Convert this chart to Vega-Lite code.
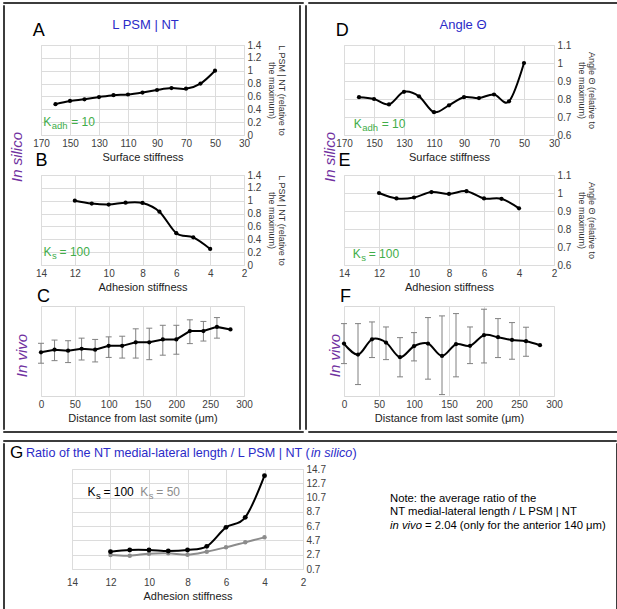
{
"$schema": "https://vega.github.io/schema/vega-lite/v6.json",
"background": "white",
"padding": {"left": 2, "top": 1, "right": 0, "bottom": 0},
"config": {
  "font": "Liberation Sans",
  "view": {"stroke": "#d9d9d9"},
  "axis": {"labelFontSize": 10, "labelColor": "#404040", "titleFontSize": 11, "titleFontWeight": "normal", "titleColor": "#222222", "gridColor": "#dcdcdc", "domain": false, "ticks": false, "labelPadding": 3, "titlePadding": 3, "labelFlush": false},
  "axisY": {"titleFontSize": 9, "titleLineHeight": 10, "titlePadding": 6, "titleColor": "#333333"},
  "title": {"fontWeight": "normal", "color": "#000000", "font": "Liberation Sans"}
},
"datasets": {
  "A": [{"x":160,"y":0.48},{"x":150,"y":0.53},{"x":140,"y":0.555},{"x":130,"y":0.59},{"x":120,"y":0.62},{"x":110,"y":0.63},{"x":100,"y":0.66},{"x":90,"y":0.70},{"x":80,"y":0.73},{"x":70,"y":0.72},{"x":60,"y":0.80},{"x":50,"y":1.0}],
  "B": [{"x":12,"y":1.0},{"x":11,"y":0.955},{"x":10,"y":0.94},{"x":9,"y":0.97},{"x":8,"y":0.965},{"x":7,"y":0.83},{"x":6,"y":0.495},{"x":5,"y":0.43},{"x":4,"y":0.25}],
  "C": [{"x":0,"y":0.68,"lo":0.51,"hi":0.82},{"x":20,"y":0.72,"lo":0.55,"hi":0.87},{"x":40,"y":0.705,"lo":0.52,"hi":0.86},{"x":60,"y":0.735,"lo":0.56,"hi":0.9},{"x":80,"y":0.72,"lo":0.53,"hi":0.88},{"x":100,"y":0.78,"lo":0.6,"hi":0.92},{"x":120,"y":0.78,"lo":0.59,"hi":0.93},{"x":140,"y":0.835,"lo":0.59,"hi":1.045},{"x":160,"y":0.835,"lo":0.565,"hi":1.055},{"x":180,"y":0.88,"lo":0.635,"hi":1.1},{"x":200,"y":0.88,"lo":0.65,"hi":1.1},{"x":220,"y":1.01,"lo":0.815,"hi":1.185},{"x":240,"y":1.01,"lo":0.855,"hi":1.16},{"x":260,"y":1.075,"lo":0.9,"hi":1.22},{"x":280,"y":1.035}],
  "D": [{"x":160,"y":0.81},{"x":150,"y":0.8},{"x":140,"y":0.77},{"x":130,"y":0.84},{"x":120,"y":0.815},{"x":110,"y":0.727},{"x":100,"y":0.765},{"x":90,"y":0.81},{"x":80,"y":0.805},{"x":70,"y":0.825},{"x":60,"y":0.787},{"x":50,"y":1.0}],
  "E": [{"x":12,"y":1.0},{"x":11,"y":0.97},{"x":10,"y":0.975},{"x":9,"y":1.005},{"x":8,"y":0.995},{"x":7,"y":1.01},{"x":6,"y":0.97},{"x":5,"y":0.968},{"x":4,"y":0.915}],
  "F": [{"x":0,"y":1.008,"lo":0.852,"hi":1.163},{"x":20,"y":0.922,"lo":0.689,"hi":1.163},{"x":40,"y":1.041,"lo":0.899,"hi":1.176},{"x":60,"y":1.016,"lo":0.883,"hi":1.137},{"x":80,"y":0.902,"lo":0.749,"hi":1.054},{"x":100,"y":0.987,"lo":0.873,"hi":1.093},{"x":120,"y":1.008,"lo":0.731,"hi":1.21},{"x":140,"y":0.912,"lo":0.611,"hi":1.223},{"x":160,"y":1.003,"lo":0.749,"hi":1.241},{"x":180,"y":0.99,"lo":0.852,"hi":1.137},{"x":200,"y":1.073,"lo":0.857,"hi":1.275},{"x":220,"y":1.057,"lo":0.899,"hi":1.202},{"x":240,"y":1.036,"lo":0.886,"hi":1.171},{"x":260,"y":1.026,"lo":0.909,"hi":1.135},{"x":280,"y":0.995}],
  "G": [{"x":12,"y":3.13,"s":100},{"x":11,"y":3.36,"s":100},{"x":10,"y":3.36,"s":100},{"x":9,"y":3.22,"s":100},{"x":8,"y":3.36,"s":100},{"x":7,"y":3.87,"s":100},{"x":6,"y":6.53,"s":100},{"x":5,"y":7.93,"s":100},{"x":4,"y":13.77,"s":100},
        {"x":12,"y":2.66,"s":50},{"x":11,"y":2.57,"s":50},{"x":10,"y":2.85,"s":50},{"x":9,"y":2.9,"s":50},{"x":8,"y":2.7,"s":50},{"x":7,"y":3.13,"s":50},{"x":6,"y":3.73,"s":50},{"x":5,"y":4.43,"s":50},{"x":4,"y":5.13,"s":50}],
  "ann": [{"p":"A","x":168.5,"y":0.2,"k":"K","sub":"adh","rest":"= 10"},{"p":"B","x":13.85,"y":0.2,"k":"K","sub":"s","rest":"= 100"},{"p":"D","x":163.5,"y":0.66,"k":"K","sub":"adh","rest":"= 10"},{"p":"E","x":13.5,"y":0.66,"k":"K","sub":"s","rest":"= 100"},{"p":"G1","x":13.2,"y":11.5,"k":"K","sub":"s","rest":"= 100"},{"p":"G2","x":10.45,"y":11.5,"k":"K","sub":"s","rest":"= 50"}],
  "note": [{"line":1,"part":"n","t":"Note: the average ratio of the"},{"line":2,"part":"n","t":"NT medial-lateral length / L PSM | NT"},{"line":3,"part":"i","t":"in vivo"},{"line":3,"part":"r","t":"= 2.04 (only for the anterior 140 μm)"}],
  "ghead": [{"c":"g","t":"G"},{"c":"b","t":"Ratio of the NT medial-lateral length / L PSM | NT ("},{"c":"i","t":"in silico"},{"c":"e","t":")"}]
},
"spacing": 0,
"vconcat": [
 {"hconcat": [
   {"width": 300, "height": 1, "data": {"values": []}, "mark": "point", "view": {"stroke": "#3c3c3c"}},
   {"width": 310, "height": 1, "data": {"values": []}, "mark": "point", "view": {"stroke": "#3c3c3c"}}
 ], "spacing": 3},
 {"hconcat": [
  {"hconcat": [
   {"width": 1, "height": 424, "data": {"values": []}, "mark": "point", "view": {"stroke": "#3c3c3c"}},
   {"hconcat": [
    {"spacing": -25,
     "vconcat": [
      {"width": 203, "height": 40, "view": {"stroke": null}, "data": {"values": [{"t": "L PSM | NT"}]},
       "mark": {"type": "text", "fontSize": 13, "color": "#2B2BC8", "dx": 3}, "encoding": {"text": {"field": "t"}}},
      {"spacing": -6,
       "vconcat": [
        {"title": {"text": "In silico", "orient": "left", "anchor": "middle", "fontSize": 15, "fontStyle": "italic", "color": "#7030A0", "offset": 7},
         "spacing": -12,
         "vconcat": [
          {"width": 203, "height": 90,
           "title": {"text": "A", "anchor": "start", "fontSize": 18, "offset": 0},
           "data": {"name": "A"},
           "encoding": {
            "x": {"field": "x", "type": "quantitative", "scale": {"domain": [30, 170], "reverse": true, "nice": false, "zero": false}, "axis": {"values": [30,50,70,90,110,130,150,170], "title": "Surface stiffness"}},
            "y": {"field": "y", "type": "quantitative", "scale": {"domain": [0, 1.4], "nice": false}, "axis": {"orient": "right", "values": [0,0.2,0.4,0.6,0.8,1,1.2,1.4], "format": "~g", "title": ["L PSM | NT (relative to", "the maximum)"]}}
           },
           "layer": [
            {"mark": {"type": "line", "interpolate": "cardinal", "color": "#000000", "strokeWidth": 2}},
            {"mark": {"type": "circle", "color": "#000000", "size": 18, "opacity": 1}},
            {"data": {"name": "ann"}, "transform": [{"filter": "datum.p == 'A'"}], "mark": {"type": "text", "align": "left", "baseline": "middle", "fontSize": 12, "color": "#41AD49"}, "encoding": {"text": {"field": "k"}}},
            {"data": {"name": "ann"}, "transform": [{"filter": "datum.p == 'A'"}], "mark": {"type": "text", "align": "left", "baseline": "middle", "fontSize": 9.5, "dx": 8.5, "dy": 4, "color": "#41AD49"}, "encoding": {"text": {"field": "sub"}}},
            {"data": {"name": "ann"}, "transform": [{"filter": "datum.p == 'A'"}], "mark": {"type": "text", "align": "left", "baseline": "middle", "fontSize": 12, "dx": 28, "color": "#41AD49"}, "encoding": {"text": {"field": "rest"}}}
           ]},
          {"width": 203, "height": 90,
           "title": {"text": "B", "anchor": "start", "fontSize": 18, "offset": 0},
           "data": {"name": "B"},
           "encoding": {
            "x": {"field": "x", "type": "quantitative", "scale": {"domain": [2, 14], "reverse": true, "nice": false, "zero": false}, "axis": {"values": [2,4,6,8,10,12,14], "title": "Adhesion stiffness"}},
            "y": {"field": "y", "type": "quantitative", "scale": {"domain": [0, 1.4], "nice": false}, "axis": {"orient": "right", "values": [0,0.2,0.4,0.6,0.8,1,1.2,1.4], "format": "~g", "title": ["L PSM | NT (relative to", "the maximum)"]}}
           },
           "layer": [
            {"mark": {"type": "line", "interpolate": "cardinal", "color": "#000000", "strokeWidth": 2}},
            {"mark": {"type": "circle", "color": "#000000", "size": 18, "opacity": 1}},
            {"data": {"name": "ann"}, "transform": [{"filter": "datum.p == 'B'"}], "mark": {"type": "text", "align": "left", "baseline": "middle", "fontSize": 12, "color": "#41AD49"}, "encoding": {"text": {"field": "k"}}},
            {"data": {"name": "ann"}, "transform": [{"filter": "datum.p == 'B'"}], "mark": {"type": "text", "align": "left", "baseline": "middle", "fontSize": 9.5, "dx": 8.5, "dy": 4, "color": "#41AD49"}, "encoding": {"text": {"field": "sub"}}},
            {"data": {"name": "ann"}, "transform": [{"filter": "datum.p == 'B'"}], "mark": {"type": "text", "align": "left", "baseline": "middle", "fontSize": 12, "dx": 16, "color": "#41AD49"}, "encoding": {"text": {"field": "rest"}}}
           ]}
         ]},
        {"title": {"text": "In vivo", "orient": "left", "anchor": "middle", "fontSize": 15, "fontStyle": "italic", "color": "#7030A0", "offset": 7},
         "vconcat": [
          {"width": 203, "height": 90,
           "title": {"text": "C", "anchor": "start", "fontSize": 18, "offset": 0},
           "data": {"name": "C"},
           "encoding": {
            "x": {"field": "x", "type": "quantitative", "scale": {"domain": [0, 300], "nice": false}, "axis": {"values": [0,50,100,150,200,250,300], "title": "Distance from last somite (μm)"}},
            "y": {"field": "y", "type": "quantitative", "scale": {"domain": [0, 1.4], "nice": false}, "axis": {"orient": "right", "values": [0,0.2,0.4,0.6,0.8,1,1.2,1.4], "format": "~g", "title": ["L PSM | NT (relative to", "L PSM | NT at 280 μm", "posterior of the last somite)"]}}
           },
           "layer": [
            {"transform": [{"filter": "datum.lo != null"}], "mark": {"type": "rule", "color": "#808080", "strokeWidth": 1}, "encoding": {"y": {"field": "lo", "type": "quantitative", "axis": null}, "y2": {"field": "hi"}}},
            {"transform": [{"filter": "datum.lo != null"}], "mark": {"type": "tick", "orient": "horizontal", "size": 6, "thickness": 1, "color": "#808080", "opacity": 1}, "encoding": {"y": {"field": "lo", "type": "quantitative", "axis": null}}},
            {"transform": [{"filter": "datum.lo != null"}], "mark": {"type": "tick", "orient": "horizontal", "size": 6, "thickness": 1, "color": "#808080", "opacity": 1}, "encoding": {"y": {"field": "hi", "type": "quantitative", "axis": null}}},
            {"mark": {"type": "line", "color": "#000000", "strokeWidth": 2}},
            {"mark": {"type": "circle", "color": "#000000", "size": 18, "opacity": 1}}
           ]}
         ]}
       ]}
     ]},
    {"width": 1, "height": 424, "data": {"values": []}, "mark": "point", "view": {"stroke": "#3c3c3c"}}
   ], "spacing": 11}
  ], "spacing": 5},
  {"hconcat": [
   {"width": 1, "height": 424, "data": {"values": []}, "mark": "point", "view": {"stroke": "#3c3c3c"}},
   {"hconcat": [
    {"spacing": -25,
     "vconcat": [
      {"width": 210, "height": 40, "view": {"stroke": null}, "data": {"values": [{"t": "Angle Θ"}]},
       "mark": {"type": "text", "fontSize": 13, "color": "#2B2BC8", "dx": 14}, "encoding": {"text": {"field": "t"}}},
      {"spacing": -6,
       "vconcat": [
        {"title": {"text": "In silico", "orient": "left", "anchor": "middle", "fontSize": 15, "fontStyle": "italic", "color": "#7030A0", "offset": -3},
         "spacing": -12,
         "vconcat": [
          {"width": 210, "height": 90,
           "title": {"text": "D", "anchor": "start", "fontSize": 18, "offset": 0},
           "data": {"name": "D"},
           "encoding": {
            "x": {"field": "x", "type": "quantitative", "scale": {"domain": [30, 170], "reverse": true, "nice": false, "zero": false}, "axis": {"values": [30,50,70,90,110,130,150,170], "title": "Surface stiffness"}},
            "y": {"field": "y", "type": "quantitative", "scale": {"domain": [0.6, 1.1], "nice": false, "zero": false}, "axis": {"orient": "right", "values": [0.6,0.7,0.8,0.9,1,1.1], "format": "~g", "title": ["Angle Θ (relative to", "the maximum)"]}}
           },
           "layer": [
            {"mark": {"type": "line", "interpolate": "cardinal", "color": "#000000", "strokeWidth": 2}},
            {"mark": {"type": "circle", "color": "#000000", "size": 18, "opacity": 1}},
            {"data": {"name": "ann"}, "transform": [{"filter": "datum.p == 'D'"}], "mark": {"type": "text", "align": "left", "baseline": "middle", "fontSize": 12, "color": "#41AD49"}, "encoding": {"text": {"field": "k"}}},
            {"data": {"name": "ann"}, "transform": [{"filter": "datum.p == 'D'"}], "mark": {"type": "text", "align": "left", "baseline": "middle", "fontSize": 9.5, "dx": 8.5, "dy": 4, "color": "#41AD49"}, "encoding": {"text": {"field": "sub"}}},
            {"data": {"name": "ann"}, "transform": [{"filter": "datum.p == 'D'"}], "mark": {"type": "text", "align": "left", "baseline": "middle", "fontSize": 12, "dx": 28, "color": "#41AD49"}, "encoding": {"text": {"field": "rest"}}}
           ]},
          {"width": 210, "height": 90,
           "title": {"text": "E", "anchor": "start", "fontSize": 18, "offset": 0},
           "data": {"name": "E"},
           "encoding": {
            "x": {"field": "x", "type": "quantitative", "scale": {"domain": [2, 14], "reverse": true, "nice": false, "zero": false}, "axis": {"values": [2,4,6,8,10,12,14], "title": "Adhesion stiffness"}},
            "y": {"field": "y", "type": "quantitative", "scale": {"domain": [0.6, 1.1], "nice": false, "zero": false}, "axis": {"orient": "right", "values": [0.6,0.7,0.8,0.9,1,1.1], "format": "~g", "title": ["Angle Θ (relative to", "the maximum)"]}}
           },
           "layer": [
            {"mark": {"type": "line", "interpolate": "cardinal", "color": "#000000", "strokeWidth": 2}},
            {"mark": {"type": "circle", "color": "#000000", "size": 18, "opacity": 1}},
            {"data": {"name": "ann"}, "transform": [{"filter": "datum.p == 'E'"}], "mark": {"type": "text", "align": "left", "baseline": "middle", "fontSize": 12, "color": "#41AD49"}, "encoding": {"text": {"field": "k"}}},
            {"data": {"name": "ann"}, "transform": [{"filter": "datum.p == 'E'"}], "mark": {"type": "text", "align": "left", "baseline": "middle", "fontSize": 9.5, "dx": 8.5, "dy": 4, "color": "#41AD49"}, "encoding": {"text": {"field": "sub"}}},
            {"data": {"name": "ann"}, "transform": [{"filter": "datum.p == 'E'"}], "mark": {"type": "text", "align": "left", "baseline": "middle", "fontSize": 12, "dx": 16, "color": "#41AD49"}, "encoding": {"text": {"field": "rest"}}}
           ]}
         ]},
        {"title": {"text": "In vivo", "orient": "left", "anchor": "middle", "fontSize": 15, "fontStyle": "italic", "color": "#7030A0", "offset": -3},
         "vconcat": [
          {"width": 210, "height": 90,
           "title": {"text": "F", "anchor": "start", "fontSize": 18, "offset": 0},
           "data": {"name": "F"},
           "encoding": {
            "x": {"field": "x", "type": "quantitative", "scale": {"domain": [0, 300], "nice": false}, "axis": {"values": [0,50,100,150,200,250,300], "title": "Distance from last somite (μm)"}},
            "y": {"field": "y", "type": "quantitative", "scale": {"domain": [0.6, 1.3], "nice": false, "zero": false}, "axis": {"orient": "right", "values": [0.6,0.7,0.8,0.9,1,1.1,1.2,1.3], "format": "~g", "title": ["Angle Θ (relative to", "Angle Θ at 280 μm", "posterior of the last somite)"]}}
           },
           "layer": [
            {"transform": [{"filter": "datum.lo != null"}], "mark": {"type": "rule", "color": "#808080", "strokeWidth": 1}, "encoding": {"y": {"field": "lo", "type": "quantitative", "axis": null}, "y2": {"field": "hi"}}},
            {"transform": [{"filter": "datum.lo != null"}], "mark": {"type": "tick", "orient": "horizontal", "size": 6, "thickness": 1, "color": "#808080", "opacity": 1}, "encoding": {"y": {"field": "lo", "type": "quantitative", "axis": null}}},
            {"transform": [{"filter": "datum.lo != null"}], "mark": {"type": "tick", "orient": "horizontal", "size": 6, "thickness": 1, "color": "#808080", "opacity": 1}, "encoding": {"y": {"field": "hi", "type": "quantitative", "axis": null}}},
            {"mark": {"type": "line", "interpolate": "cardinal", "color": "#000000", "strokeWidth": 2}},
            {"mark": {"type": "circle", "color": "#000000", "size": 18, "opacity": 1}}
           ]}
         ]}
       ]}
     ]},
    {"width": 1, "height": 424, "data": {"values": []}, "mark": "point", "view": {"stroke": "#3c3c3c"}}
   ], "spacing": 19}
  ], "spacing": 16}
 ], "spacing": 3},
 {"hconcat": [
   {"width": 300, "height": 1, "data": {"values": []}, "mark": "point", "view": {"stroke": "#3c3c3c"}},
   {"width": 310, "height": 1, "data": {"values": []}, "mark": "point", "view": {"stroke": "#3c3c3c"}}
 ], "spacing": 3},
 {"width": 1, "height": 6, "data": {"values": []}, "mark": "point", "view": {"stroke": null}},
 {"width": 613, "height": 1, "data": {"values": []}, "mark": "point", "view": {"stroke": "#3c3c3c"}},
 {"hconcat": [
  {"width": 1, "height": 170, "data": {"values": []}, "mark": "point", "view": {"stroke": "#3c3c3c"}},
  {"spacing": 0,
   "vconcat": [
    {"width": 231, "height": 20, "view": {"stroke": null}, "data": {"name": "ghead"},
     "encoding": {"x": {"datum": 0, "type": "quantitative", "scale": {"domain": [0, 1]}, "axis": null}, "text": {"field": "t"}},
     "layer": [
      {"transform": [{"filter": "datum.c == 'g'"}], "mark": {"type": "text", "align": "left", "baseline": "middle", "fontSize": 17, "color": "#000000", "dx": -62}},
      {"transform": [{"filter": "datum.c == 'b'"}], "mark": {"type": "text", "align": "left", "baseline": "middle", "fontSize": 12.6, "color": "#2B2BC8", "dx": -46}},
      {"transform": [{"filter": "datum.c == 'i'"}], "mark": {"type": "text", "align": "left", "baseline": "middle", "fontSize": 12.6, "fontStyle": "italic", "color": "#2B2BC8", "dx": 239}},
      {"transform": [{"filter": "datum.c == 'e'"}], "mark": {"type": "text", "align": "left", "baseline": "middle", "fontSize": 12.6, "color": "#2B2BC8", "dx": 280.5}}
     ]},
    {"spacing": 64,
     "hconcat": [
      {"width": 231, "height": 100,
       "data": {"name": "G"},
       "encoding": {
        "x": {"field": "x", "type": "quantitative", "scale": {"domain": [2, 14], "reverse": true, "nice": false, "zero": false}, "axis": {"values": [2,4,6,8,10,12,14], "title": "Adhesion stiffness", "labelPadding": 8}},
        "y": {"field": "y", "type": "quantitative", "scale": {"domain": [0.7, 14.7], "nice": false, "zero": false}, "axis": {"orient": "right", "values": [0.7,2.7,4.7,6.7,8.7,10.7,12.7,14.7], "format": ".1f", "title": null}}
       },
       "layer": [
        {"transform": [{"filter": "datum.s == 50"}], "mark": {"type": "line", "interpolate": "cardinal", "color": "#8C8C8C", "strokeWidth": 2}},
        {"transform": [{"filter": "datum.s == 50"}], "mark": {"type": "circle", "color": "#8C8C8C", "size": 20, "opacity": 1}},
        {"transform": [{"filter": "datum.s == 100"}], "mark": {"type": "line", "interpolate": "cardinal", "color": "#000000", "strokeWidth": 2}},
        {"transform": [{"filter": "datum.s == 100"}], "mark": {"type": "circle", "color": "#000000", "size": 24, "opacity": 1}},
        {"data": {"name": "ann"}, "transform": [{"filter": "datum.p == 'G1'"}], "mark": {"type": "text", "align": "left", "baseline": "middle", "fontSize": 12, "color": "#000000"}, "encoding": {"text": {"field": "k"}}},
        {"data": {"name": "ann"}, "transform": [{"filter": "datum.p == 'G1'"}], "mark": {"type": "text", "align": "left", "baseline": "middle", "fontSize": 9.5, "dx": 8.5, "dy": 4, "color": "#000000"}, "encoding": {"text": {"field": "sub"}}},
        {"data": {"name": "ann"}, "transform": [{"filter": "datum.p == 'G1'"}], "mark": {"type": "text", "align": "left", "baseline": "middle", "fontSize": 12, "dx": 16, "color": "#000000"}, "encoding": {"text": {"field": "rest"}}},
        {"data": {"name": "ann"}, "transform": [{"filter": "datum.p == 'G2'"}], "mark": {"type": "text", "align": "left", "baseline": "middle", "fontSize": 12, "color": "#8C8C8C"}, "encoding": {"text": {"field": "k"}}},
        {"data": {"name": "ann"}, "transform": [{"filter": "datum.p == 'G2'"}], "mark": {"type": "text", "align": "left", "baseline": "middle", "fontSize": 9.5, "dx": 8.5, "dy": 4, "color": "#8C8C8C"}, "encoding": {"text": {"field": "sub"}}},
        {"data": {"name": "ann"}, "transform": [{"filter": "datum.p == 'G2'"}], "mark": {"type": "text", "align": "left", "baseline": "middle", "fontSize": 12, "dx": 16, "color": "#8C8C8C"}, "encoding": {"text": {"field": "rest"}}}
       ]},
      {"width": 220, "height": 100,
       "view": {"stroke": null},
       "data": {"name": "note"},
       "encoding": {
        "x": {"datum": 0, "type": "quantitative", "scale": {"domain": [0, 1]}, "axis": null},
        "y": {"field": "line", "type": "quantitative", "scale": {"domain": [-1.22, 6.19], "reverse": true, "nice": false, "zero": false}, "axis": null},
        "text": {"field": "t"}
       },
       "layer": [
        {"transform": [{"filter": "datum.part == 'n'"}], "mark": {"type": "text", "align": "left", "baseline": "middle", "fontSize": 11.3, "color": "#000000"}},
        {"transform": [{"filter": "datum.part == 'i'"}], "mark": {"type": "text", "align": "left", "baseline": "middle", "fontSize": 11.3, "fontStyle": "italic", "color": "#000000"}},
        {"transform": [{"filter": "datum.part == 'r'"}], "mark": {"type": "text", "align": "left", "baseline": "middle", "fontSize": 11.3, "dx": 35, "color": "#000000"}}
       ]}
     ]}
   ]},
  {"width": 1, "height": 170, "data": {"values": []}, "mark": "point", "view": {"stroke": "#3c3c3c"}}
 ], "spacing": 5},
 {"width": 613, "height": 1, "data": {"values": []}, "mark": "point", "view": {"stroke": "#3c3c3c"}}
]
}
